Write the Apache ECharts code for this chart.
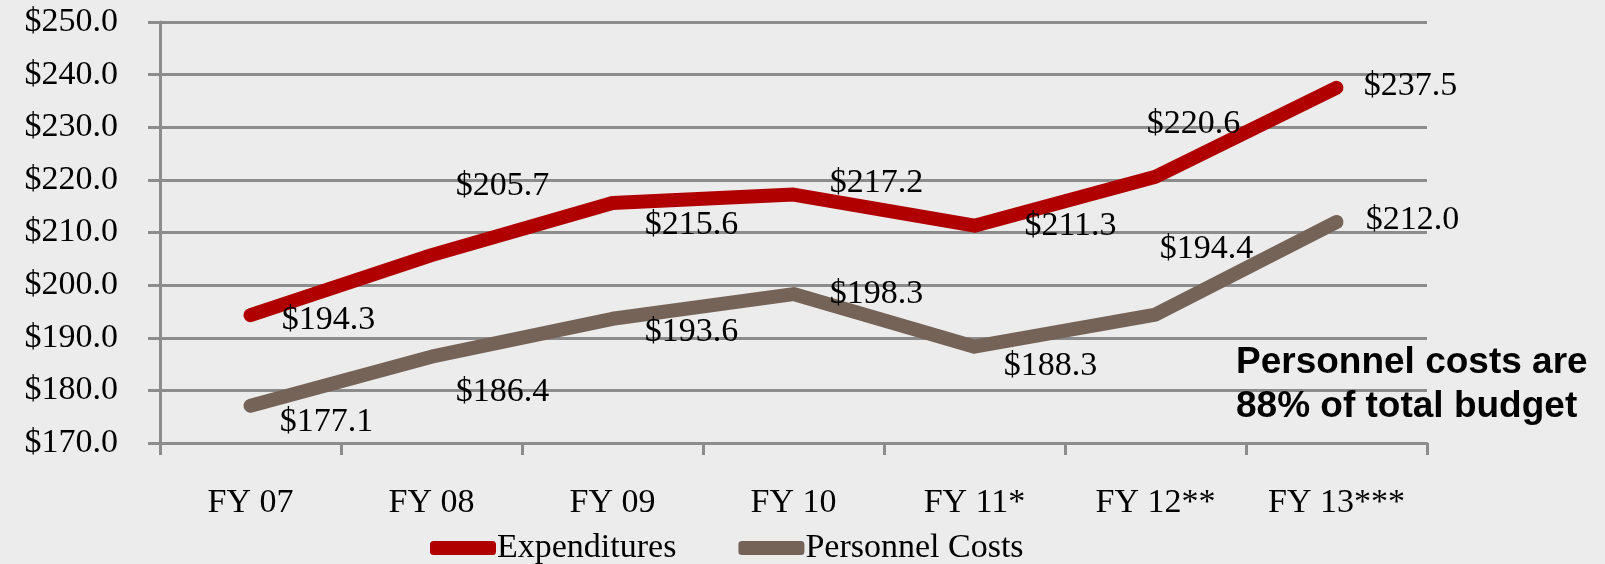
<!DOCTYPE html>
<html>
<head>
<meta charset="utf-8">
<script src="https://cdn.jsdelivr.net/npm/echarts@6/dist/echarts.min.js"></script>
<style>
  html, body { margin: 0; padding: 0; background: #ececec; }
  #chart { width: 1605px; height: 564px; }
</style>
</head>
<body>
<div id="chart"></div>
<script>
const years = ["FY 07", "FY 08", "FY 09", "FY 10", "FY 11*", "FY 12**", "FY 13***"];
const expenditures = [194.3, 205.7, 215.6, 217.2, 211.3, 220.6, 237.5];
const personnelCosts = [177.1, 186.4, 193.6, 198.3, 188.3, 194.4, 212.0];
const note = ["Personnel costs are", "88% of total budget"];

// where each value label sits relative to its point (as in the original)
const expLabelOffsets = [[78, 5], [71, -69], [79, 22], [83, -12], [96, 0], [38, -53], [74, -2]];
const persLabelOffsets = [[76, 16], [71, 35], [79, 13], [83, 0], [76, 19], [51, -66], [76, -2]];

const serif = "'Liberation Serif', 'DejaVu Serif', serif";
const money = (v) => "$" + Number(v).toFixed(1);

const chart = echarts.init(document.getElementById("chart"));

const makeSeries = (name, values, offsets, color) => ({
  name: name,
  type: "line",
  data: values.map((v, i) => ({ value: v, label: { offset: offsets[i] } })),
  symbol: "circle",
  symbolSize: 2,
  itemStyle: { color: color },
  lineStyle: { width: 14, color: color, cap: "round", join: "round" },
  label: {
    show: true,
    position: "inside",
    align: "center",
    verticalAlign: "middle",
    formatter: (p) => money(p.value),
    fontFamily: serif,
    fontSize: 34,
    color: "#000",
  },
  z: 3,
});

chart.setOption({
  backgroundColor: "#ececec",
  animation: false,
  grid: { left: 160, right: 178, top: 22, bottom: 121 },
  legend: {
    left: 425,
    top: 526,
    icon: "roundRect",
    itemWidth: 66,
    itemHeight: 14,
    itemGap: 62,
    textStyle: { fontFamily: serif, fontSize: 34, color: "#000", padding: [0, 0, 0, -4] },
    data: ["Expenditures", "Personnel Costs"],
  },
  xAxis: {
    type: "category",
    data: years,
    boundaryGap: true,
    axisLine: { lineStyle: { color: "#8c8c8c", width: 3 } },
    axisTick: { show: true, length: 12, lineStyle: { color: "#8c8c8c", width: 3 } },
    axisLabel: { margin: 43, fontFamily: serif, fontSize: 34, color: "#000" },
  },
  yAxis: {
    type: "value",
    min: 170,
    max: 250,
    interval: 10,
    axisLine: { show: true, lineStyle: { color: "#8c8c8c", width: 3 } },
    axisTick: { show: true, length: 12, lineStyle: { color: "#8c8c8c", width: 3 } },
    splitLine: { lineStyle: { color: "#8c8c8c", width: 3 } },
    axisLabel: { margin: 42, fontFamily: serif, fontSize: 34, color: "#000", formatter: money },
  },
  graphic: [
    {
      type: "text",
      left: 1236,
      top: 341,
      style: {
        text: note.join("\n"),
        fontFamily: "'Liberation Sans', Arial, sans-serif",
        fontWeight: "bold",
        fontSize: 37,
        lineHeight: 44,
        fill: "#000",
      },
      z: 10,
    },
  ],
  series: [
    makeSeries("Expenditures", expenditures, expLabelOffsets, "#b00000"),
    makeSeries("Personnel Costs", personnelCosts, persLabelOffsets, "#766358"),
  ],
});
</script>
</body>
</html>
